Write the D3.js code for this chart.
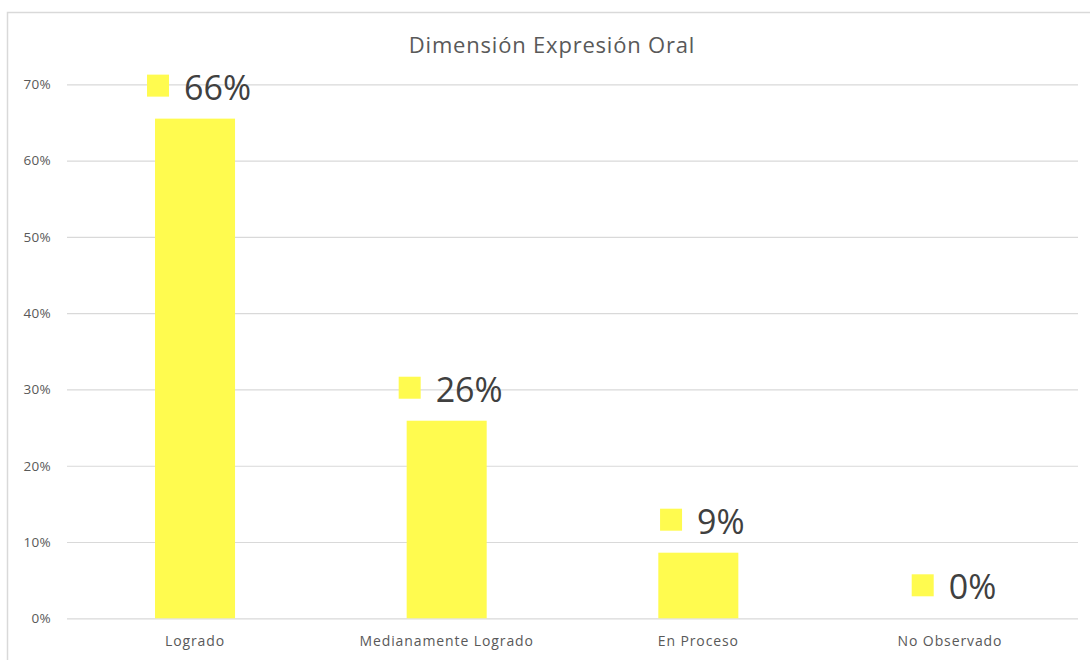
<!DOCTYPE html>
<html>
<head>
<meta charset="utf-8">
<script src="https://cdn.jsdelivr.net/npm/d3@7"></script>
<style>
  html, body { margin: 0; padding: 0; background: #fff; }
  svg { display: block; }
  text { font-family: "Open Sans", "Liberation Sans", sans-serif; }
</style>
</head>
<body>
<svg id="chart" width="1090" height="660"></svg>
<script>
// Chart data
const title = "Dimensión Expresión Oral";
const categories = ["Logrado", "Medianamente Logrado", "En Proceso", "No Observado"];
const values = [0.655, 0.259, 0.086, 0.0];
const yTicks = [0, 0.1, 0.2, 0.3, 0.4, 0.5, 0.6, 0.7];

const svg = d3.select("#chart");
const plot = { left: 67, right: 1078, top: 84.3, bottom: 618.3 };

// Outer chart frame (extends past the bottom/right edge)
svg.append("rect")
  .attr("x", 7.5).attr("y", 12.5)
  .attr("width", 1200).attr("height", 800)
  .attr("fill", "none").attr("stroke", "#d9d9d9").attr("stroke-width", 1.5);

const x = d3.scaleBand()
  .domain(categories)
  .range([69.2, 1075.8])
  .paddingInner(0.682)
  .paddingOuter(0.682 / 2);

const y = d3.scaleLinear()
  .domain([0, 0.7])
  .range([plot.bottom, plot.top]);

// Gridlines + y tick labels
const yAxis = d3.axisLeft(y)
  .tickValues(yTicks)
  .tickFormat(d3.format(".0%"))
  .tickSize(-(plot.right - plot.left))
  .tickPadding(16);

const gy = svg.append("g")
  .attr("transform", `translate(${plot.left},0)`)
  .call(yAxis);
gy.select(".domain").remove();
gy.selectAll(".tick line").attr("stroke", "#d9d9d9").attr("stroke-width", 1.2);
gy.selectAll(".tick text")
  .attr("fill", "#595959")
  .style("font-size", "13.5px")
  .style("letter-spacing", "0.3px");

// Bars
svg.append("g").selectAll("rect")
  .data(values)
  .join("rect")
  .attr("x", (d, i) => x(categories[i]))
  .attr("y", d => y(d))
  .attr("width", x.bandwidth())
  .attr("height", d => y(0) - y(d))
  .attr("fill", "#fffb4f");

// Category axis labels
const xAxis = d3.axisBottom(x).tickSize(0).tickPadding(18);
const gx = svg.append("g")
  .attr("transform", `translate(0,${plot.bottom})`)
  .call(xAxis);
gx.select(".domain").remove();
gx.selectAll(".tick text")
  .attr("fill", "#595959")
  .style("font-size", "14px")
  .style("letter-spacing", "0.9px");

// Data labels with a colour key square
const fmt = d3.format(".0%");
const labels = svg.append("g").selectAll("g")
  .data(values)
  .join("g");

labels.each(function (d, i) {
  const g = d3.select(this);
  const cx = x(categories[i]) + x.bandwidth() / 2 + 4;
  const cy = y(d) - 33;
  const t = g.append("text")
    .text(fmt(d))
    .attr("fill", "#404040")
    .style("font-size", "34px")
    .attr("dominant-baseline", "central");
  const tw = t.node().getComputedTextLength();
  const sq = 22, gap = 15;
  const total = sq + gap + tw;
  const x0 = cx - total / 2;
  g.insert("rect", "text")
    .attr("x", x0).attr("y", cy - sq / 2)
    .attr("width", sq).attr("height", sq)
    .attr("fill", "#fffb4f");
  t.attr("x", x0 + sq + gap).attr("y", cy + 1);
});

// Title
svg.append("text")
  .attr("x", 552).attr("y", 44)
  .attr("text-anchor", "middle")
  .attr("dominant-baseline", "central")
  .attr("fill", "#595959")
  .style("font-size", "22px")
  .style("letter-spacing", "0.8px")
  .text(title);
</script>
</body>
</html>
